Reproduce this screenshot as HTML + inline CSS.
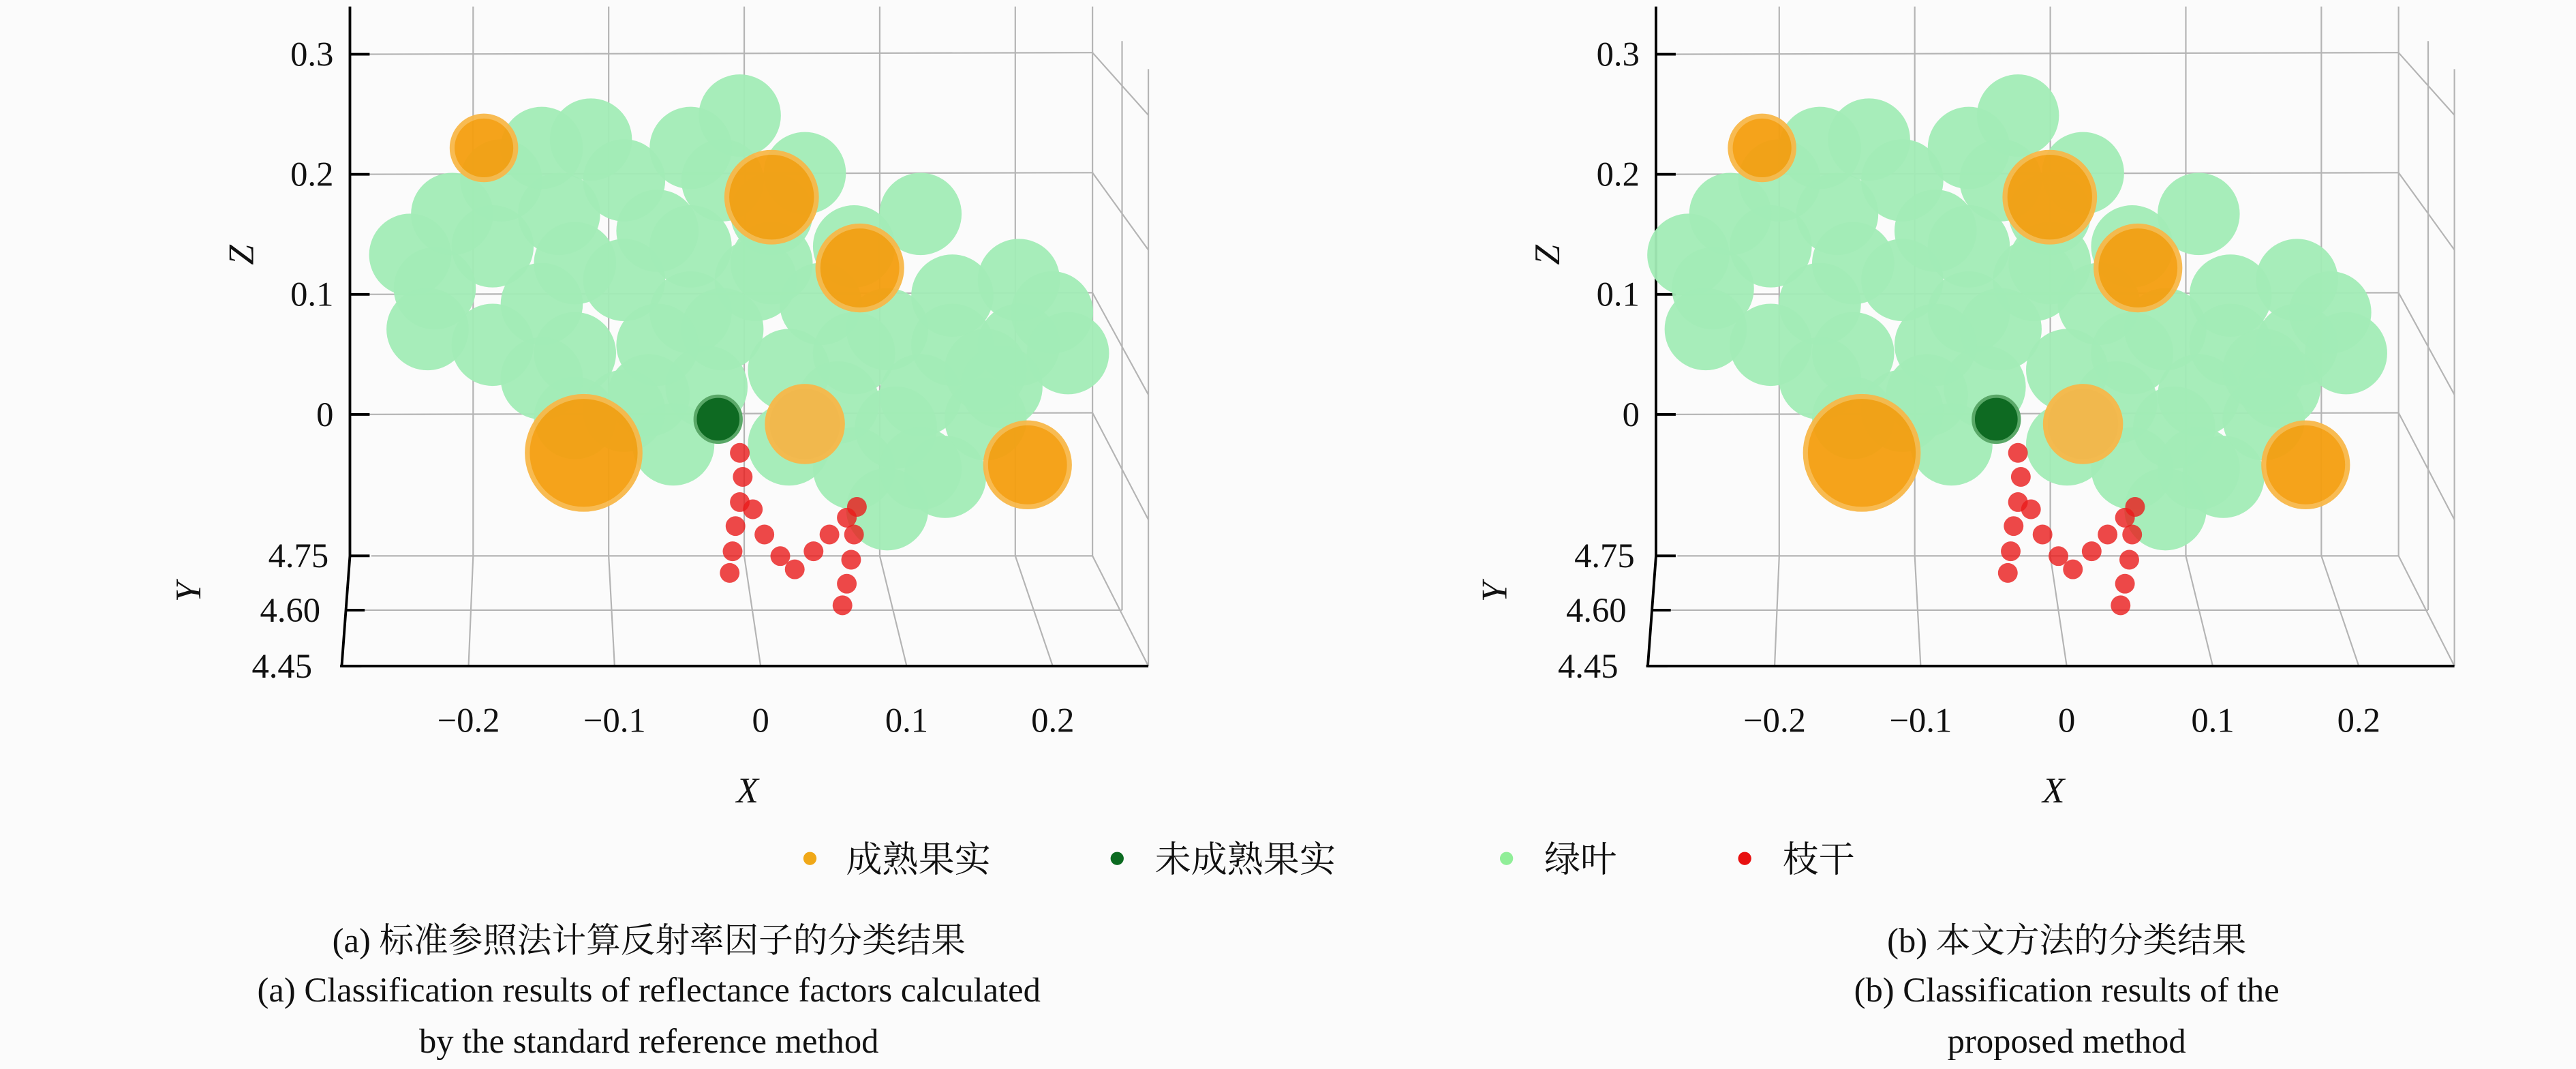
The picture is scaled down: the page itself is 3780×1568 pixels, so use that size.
<!DOCTYPE html>
<html><head><meta charset="utf-8"><style>
html,body{margin:0;padding:0;background:#fbfbfb;}
svg{display:block;}
text{font-family:"Liberation Serif","Noto Serif CJK SC","Noto Sans CJK SC",serif;fill:#111;}
</style></head><body>
<svg id="chart" width="3780" height="1568" viewBox="0 0 1568 650" preserveAspectRatio="none" xmlns="http://www.w3.org/2000/svg">
<rect x="0" y="0" width="1568" height="650" fill="#fbfbfb"/>
<g id="panels"></g>
<g>
  <g><circle cx="493" cy="522" r="4" fill="#f0a818"/><text x="515" y="530" font-size="22">成熟果实</text></g>
  <g><circle cx="680" cy="522" r="4" fill="#0b6a20"/><text x="703" y="530" font-size="22">未成熟果实</text></g>
  <g><circle cx="917" cy="522" r="4" fill="#90ee98"/><text x="940" y="530" font-size="22">绿叶</text></g>
  <g><circle cx="1062" cy="522" r="4" fill="#e81010"/><text x="1085" y="530" font-size="22">枝干</text></g>
</g>
<g text-anchor="middle" font-size="21">
  <text x="395" y="579" font-size="21">(a) 标准参照法计算反射率因子的分类结果</text>
  <text x="395" y="609" font-size="21">(a) Classification results of reflectance factors calculated</text>
  <text x="395" y="640" font-size="21">by the standard reference method</text>
</g>
<g text-anchor="middle">
  <text x="1258" y="579" font-size="21">(b) 本文方法的分类结果</text>
  <text x="1258" y="609" font-size="21">(b) Classification results of the</text>
  <text x="1258" y="640" font-size="21">proposed method</text>
</g>
</svg>
<script>
// Data (x, z in data units)
const zTicks = [0.3, 0.2, 0.1, 0];
const zTickLabels = ["0.3", "0.2", "0.1", "0"];
const yTicks = [4.75, 4.60, 4.45];
const yTickLabels = ["4.75", "4.60", "4.45"];
const xTicks = [-0.2, -0.1, 0, 0.1, 0.2];
const xTickLabels = ["\u22120.2", "\u22120.1", "0", "0.1", "0.2"];

const leafX = [-0.182,-0.136,-0.091,-0.148,-0.091,-0.045,0,0.045,0.091,0.136,0.182,0.205,-0.222,-0.182,-0.125,-0.074,-0.023,-0.011,0.011,-0.045,0.068,0.114,0.159,0.068,0.097,0.023,-0.068,-0.176,-0.114,0.182,0.216,-0.034,-0.125,-0.057,0.131,0.091,0.159,0.034,-0.148,-0.239,-0.045,-0.125,-0.023,0.068,0.057,0.136,-0.227,0.170,0.023,0.114,-0.068,0.011,-0.148,0.114,-0.210,-0.091];
const leafZ = [0.140,0.167,0.195,0.092,0.112,0.085,0.112,0.092,0.071,0.058,0.058,0.085,0.105,0.058,0.051,0.016,0.195,0.249,0.167,0.140,0.140,0.016,-0.004,-0.045,-0.011,0.037,0.153,0.195,0.229,0.112,0.051,0.023,-0.003,-0.025,-0.052,-0.079,0.037,0.201,0.222,0.133,0.222,0.126,0.071,0.051,0.010,0.099,0.071,0.023,-0.025,-0.045,0.058,0.126,0.030,0.167,0.167,0.003];

const fruitX = [-0.188, 0.011, 0.072, -0.119, 0.034, 0.188];
const fruitZ = [0.222, 0.181, 0.122, -0.032, -0.008, -0.042];
const fruitSize = [0.044, 0.062, 0.058, 0.078, 0.052, 0.058];

const unripeX = [-0.026];
const unripeZ = [-0.004];

const branchX = [-0.011,-0.009,-0.011,-0.014,-0.016,-0.018,-0.002,0.006,0.017,0.027,0.040,0.051,0.063,0.070,0.068,0.066,0.063,0.060];
const branchZ = [-0.032,-0.052,-0.073,-0.093,-0.114,-0.132,-0.079,-0.100,-0.118,-0.129,-0.114,-0.100,-0.086,-0.077,-0.100,-0.121,-0.141,-0.159];

const NS = "http://www.w3.org/2000/svg";
const root = document.getElementById('panels');
function mk(tag, attrs, parent) {
  const e = document.createElementNS(NS, tag);
  for (const k in attrs) e.setAttribute(k, attrs[k]);
  parent.appendChild(e);
  return e;
}

function panel(name, ax, px) {
  const g = mk('g', {}, root);
  
  
  const zY = z => 252 - z * 730;
  const xFront = x => 463 + ax + x * 889;
  const xBack = x => 453 + ax + x * 825;
  const ptX = x => 460 + px + x * 880;
  const grid = mk('g', {stroke: '#b4b4b4', 'stroke-width': 0.9, fill: 'none'}, g);
  
  
  const rightEnd = [70, 152, 240, 316];
  zTicks.forEach((t, i) => {
    const y = zY(t);
    mk('line', {x1: 213 + ax, y1: y, x2: 665 + ax, y2: y - 1}, grid);
    mk('line', {x1: 665 + ax, y1: y - 1, x2: 699 + ax, y2: rightEnd[i]}, grid);
  });
  xTicks.forEach(t => {
    mk('line', {x1: xBack(t), y1: 4, x2: xBack(t), y2: 338}, grid);
    mk('line', {x1: xBack(t), y1: 338, x2: xFront(t), y2: 405}, grid);
  });
  mk('line', {x1: 665 + ax, y1: 4, x2: 665 + ax, y2: 338}, grid);
  mk('line', {x1: 683 + ax, y1: 25, x2: 683 + ax, y2: 371}, grid);
  mk('line', {x1: 699 + ax, y1: 42, x2: 699 + ax, y2: 405}, grid);
  mk('line', {x1: 226 + ax, y1: 338, x2: 665 + ax, y2: 338}, grid);
  mk('line', {x1: 218 + ax, y1: 371, x2: 683 + ax, y2: 371}, grid);
  mk('line', {x1: 665 + ax, y1: 338, x2: 699 + ax, y2: 405}, grid);

  const axes = mk('g', {stroke: '#000', 'stroke-width': 1.6, fill: 'none'}, g);
  
  
  mk('polyline', {points: `${213+ax},4 ${213+ax},338 ${208+ax},405`}, axes);
  mk('line', {x1: 207 + ax, y1: 405, x2: 699 + ax, y2: 405}, axes);
  zTicks.forEach(t => mk('line', {x1: 213 + ax, y1: zY(t), x2: 225 + ax, y2: zY(t)}, axes));
  const yTickY = [338, 371, 405];
  const yTickX = [213, 210, 208];
  yTicks.forEach((t, i) => mk('line', {x1: yTickX[i] + ax, y1: yTickY[i], x2: yTickX[i] + 12 + ax, y2: yTickY[i]}, axes));

  zTicks.forEach((t, i) => {
    const e = mk('text', {x: 203 + ax, y: zY(t) + 7, 'font-size': 21, 'text-anchor': 'end'}, g);
    e.textContent = zTickLabels[i];
    
    
  });
  yTicks.forEach((t, i) => {
    const e = mk('text', {x: 200 + ax - i * 5, y: yTickY[i] + 7, 'font-size': 21, 'text-anchor': 'end'}, g);
    e.textContent = yTickLabels[i];
    
    
  });
  xTicks.forEach((t, i) => {
    const e = mk('text', {x: xFront(t), y: 445, 'font-size': 21, 'text-anchor': 'middle'}, g);
    e.textContent = xTickLabels[i];
    
    
  });
  const xl = mk('text', {x: 455 + ax, y: 488, 'font-size': 22, 'font-style': 'italic', 'text-anchor': 'middle'}, g);
  xl.textContent = 'X';
  
  
  const zl = mk('text', {x: 0, y: 0, 'font-size': 22, 'font-style': 'italic', 'text-anchor': 'middle', transform: `translate(${154+ax},155) rotate(-90)`}, g);
  zl.textContent = 'Z';
  
  
  const yl = mk('text', {x: 0, y: 0, 'font-size': 22, 'font-style': 'italic', 'text-anchor': 'middle', transform: `translate(${122+ax},360) rotate(-90)`}, g);
  yl.textContent = 'Y';
  
  

  const lg = mk('g', {}, g);
  
  
  leafX.forEach((x, i) => {
    const c = mk('circle', {cx: ptX(x), cy: zY(leafZ[i]), r: 25, fill: '#a2ecb6', opacity: 0.95}, lg);
    
    
  });
  const fg = mk('g', {}, g);
  
  
  fruitX.forEach((x, i) => {
    const r = fruitSize[i] * 440;
    const c = mk('circle', {cx: ptX(x), cy: zY(fruitZ[i]), r: r, fill: i === 4 ? '#f6b648' : '#f59f10', stroke: '#f8b84a', 'stroke-width': 3, opacity: 0.95}, fg);
    
    
  });
  unripeX.forEach((x, i) => {
    const c = mk('circle', {cx: ptX(x), cy: zY(unripeZ[i]), r: 14, fill: '#0e6a22', stroke: '#5aa868', 'stroke-width': 2}, g);
    
    
  });
  const bg = mk('g', {}, g);
  
  
  branchX.forEach((x, i) => {
    const c = mk('circle', {cx: ptX(x), cy: zY(branchZ[i]), r: 6, fill: '#ea1c1c', opacity: 0.8}, bg);
    
    
  });
}
panel('panel-a-standard-reference', 0, 0);
panel('panel-b-proposed-method', 795, 778);
</script>
</body></html>
